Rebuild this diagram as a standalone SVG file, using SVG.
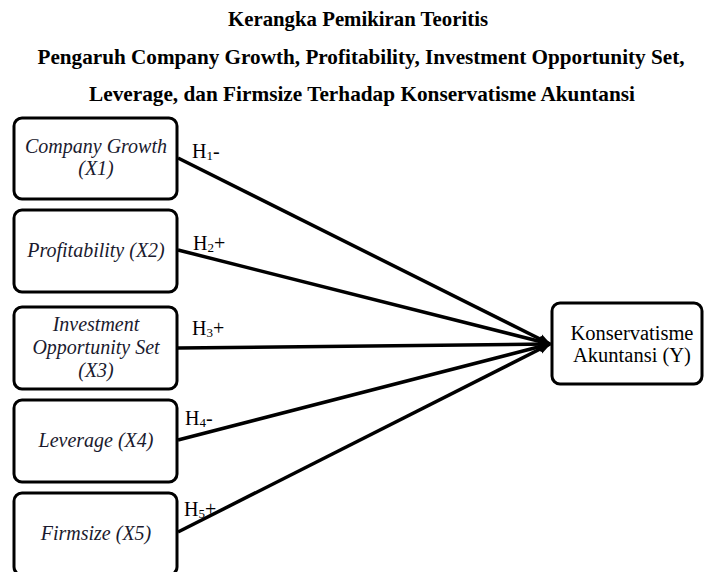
<svg xmlns="http://www.w3.org/2000/svg" width="707" height="572" viewBox="0 0 707 572">
<defs>
<style>
text{font-family:'Liberation Serif','Times New Roman',serif}
.title{font-weight:bold;font-size:21px;fill:#000;text-anchor:middle}
.box{fill:#fff;stroke:#000;stroke-width:3}
.lbl{font-style:italic;font-size:20px;fill:#1a1a2e;text-anchor:middle}
.ylbl{font-size:20.5px;fill:#000;text-anchor:middle}
.h{font-size:20px;fill:#000}
.conn{stroke:#000;stroke-width:3.5;fill:none}
</style>
<marker id="arr" viewBox="0 0 10 10" refX="9" refY="5" markerWidth="3.6" markerHeight="3.6" markerUnits="strokeWidth" orient="auto">
<path d="M0,1 L10,5 L0,9 Z" fill="#000"/>
</marker>
</defs>
<rect width="707" height="572" fill="#fff"/>
<g id="title">
<text class="title" x="358" y="26" textLength="260" lengthAdjust="spacingAndGlyphs">Kerangka Pemikiran Teoritis</text>
<text class="title" x="361" y="64" textLength="647" lengthAdjust="spacingAndGlyphs">Pengaruh Company Growth, Profitability, Investment Opportunity Set,</text>
<text class="title" x="362" y="101" textLength="546" lengthAdjust="spacingAndGlyphs">Leverage, dan Firmsize Terhadap Konservatisme Akuntansi</text>
</g>
<g id="connectors">
<line class="conn" x1="178" y1="158" x2="550" y2="344" marker-end="url(#arr)"/>
<line class="conn" x1="178" y1="250" x2="550" y2="344" marker-end="url(#arr)"/>
<line class="conn" x1="178" y1="348" x2="550" y2="344" marker-end="url(#arr)"/>
<line class="conn" x1="178" y1="440" x2="550" y2="344" marker-end="url(#arr)"/>
<line class="conn" x1="178" y1="532" x2="550" y2="344" marker-end="url(#arr)"/>
<text class="h" x="192" y="158">H<tspan font-size="13" dy="2">1</tspan><tspan dy="-2">-</tspan></text>
<text class="h" x="193" y="250">H<tspan font-size="13" dy="2">2</tspan><tspan dy="-2">+</tspan></text>
<text class="h" x="192" y="335">H<tspan font-size="13" dy="2">3</tspan><tspan dy="-2">+</tspan></text>
<text class="h" x="185" y="425">H<tspan font-size="13" dy="2">4</tspan><tspan dy="-2">-</tspan></text>
<text class="h" x="184" y="516">H<tspan font-size="13" dy="2">5</tspan><tspan dy="-2">+</tspan></text>
</g>
<g id="x1">
<rect class="box" x="14" y="118" width="163" height="81" rx="8"/>
<text class="lbl" x="96" y="153">Company Growth</text>
<text class="lbl" x="96" y="175">(X1)</text>
</g>
<g id="x2">
<rect class="box" x="14" y="210" width="163" height="82" rx="8"/>
<text class="lbl" x="96" y="257">Profitability (X2)</text>
</g>
<g id="x3">
<rect class="box" x="14" y="307" width="163" height="82" rx="8"/>
<text class="lbl" x="96" y="331">Investment</text>
<text class="lbl" x="96" y="354">Opportunity Set</text>
<text class="lbl" x="96" y="377">(X3)</text>
</g>
<g id="x4">
<rect class="box" x="14" y="400" width="163" height="82" rx="8"/>
<text class="lbl" x="96" y="447">Leverage (X4)</text>
</g>
<g id="x5">
<rect class="box" x="14" y="493" width="163" height="82" rx="8"/>
<text class="lbl" x="96" y="540">Firmsize (X5)</text>
</g>
<g id="y">
<rect class="box" x="552" y="303" width="150" height="81" rx="8"/>
<text class="ylbl" x="632" y="340">Konservatisme</text>
<text class="ylbl" x="632" y="362">Akuntansi (Y)</text>
</g>
</svg>
